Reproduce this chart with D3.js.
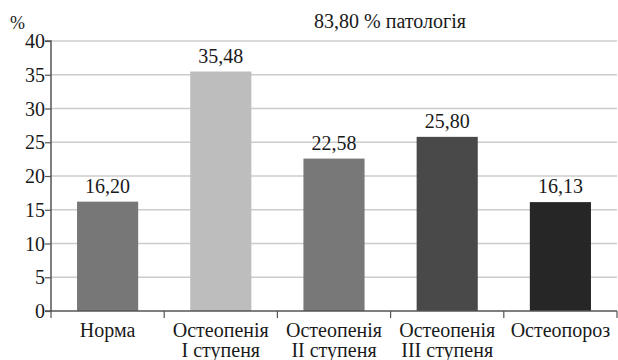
<!DOCTYPE html>
<html>
<head>
<meta charset="utf-8">
<script src="https://cdn.jsdelivr.net/npm/d3@7/dist/d3.min.js"></script>
</head>
<body style="margin:0;background:#fff">
<svg id="bmd" width="618" height="360"><g id="root" style="font-family:'Liberation Serif'; font-size:20px"></g></svg>
<script>
// Distribution of bone mineral density categories, %
const categories = [
  ["Норма"],
  ["Остеопенія", "I ступеня"],
  ["Остеопенія", "II ступеня"],
  ["Остеопенія", "III ступеня"],
  ["Остеопороз"]
];
const values = [16.20, 35.48, 22.58, 25.80, 16.13];
const barColors = ["#777777", "#bdbdbd", "#787878", "#494949", "#262626"];
const yTicks = [0, 5, 10, 15, 20, 25, 30, 35, 40];
const unitLabel = "%";
const noteLabel = "83,80 % патологія";

const TEXT_COLOR = "#1a1a1a";

const svg = d3.select("#root");
const margin = { left: 51, right: 1, top: 41, bottom: 49 };
const width = 618, height = 360;

const x = d3.scaleBand()
  .domain(d3.range(categories.length))
  .range([margin.left, width - margin.right])
  .paddingInner(0.46)
  .paddingOuter(0.23);

const y = d3.scaleLinear()
  .domain([0, 40])
  .range([height - margin.bottom, margin.top]);

const fmt = v => v.toFixed(2).replace(".", ",");

function addText(parent, str, px, py, anchor, size) {
  const t = parent.append("text")
    .attr("x", px)
    .attr("y", py)
    .attr("text-anchor", anchor || "middle")
    .attr("fill", TEXT_COLOR)
    .text(str);
  if (size) t.style("font-size", size + "px");
  return t;
}

// horizontal gridlines
svg.append("g")
  .selectAll("line")
  .data(yTicks.filter(t => t > 0))
  .join("line")
  .attr("x1", margin.left)
  .attr("x2", width - margin.right)
  .attr("y1", d => y(d))
  .attr("y2", d => y(d))
  .attr("stroke", "#cccccc")
  .attr("stroke-width", 1.5);

// bars
svg.append("g")
  .selectAll("rect")
  .data(values)
  .join("rect")
  .attr("x", (d, i) => x(i))
  .attr("width", x.bandwidth())
  .attr("y", d => y(d))
  .attr("height", d => y(0) - y(d))
  .attr("fill", (d, i) => barColors[i]);

// value labels
const valG = svg.append("g");
values.forEach((v, i) => {
  addText(valG, fmt(v), x(i) + x.bandwidth() / 2, y(v) - 9);
});

// y axis line and ticks
const yAxis = svg.append("g")
  .attr("transform", `translate(${margin.left},0)`)
  .call(d3.axisLeft(y).tickValues(yTicks).tickSize(6).tickFormat(""));
yAxis.attr("font-family", null).attr("font-size", null);
yAxis.select(".domain").attr("stroke", "#555").attr("stroke-width", 1.5).attr("d", `M-6,${y(0)}H0V${y(40)}H-6`);
yAxis.selectAll(".tick line").attr("stroke", "#555").attr("stroke-width", 1.2);

// y tick labels
const yLabG = svg.append("g");
yTicks.forEach(t => {
  addText(yLabG, String(t), margin.left - 6, y(t) + 7, "end");
});

// x axis with boundary ticks between categories
const xAxisG = svg.append("g").attr("transform", `translate(0,${y(0)})`);
xAxisG.append("line")
  .attr("x1", margin.left).attr("x2", width - margin.right)
  .attr("stroke", "#555").attr("stroke-width", 1.5);
const bounds = d3.range(categories.length + 1).map(i => margin.left + i * (width - margin.right - margin.left) / categories.length);
xAxisG.selectAll("line.tick")
  .data(bounds)
  .join("line")
  .attr("class", "tick")
  .attr("x1", d => d).attr("x2", d => d)
  .attr("y1", 0).attr("y2", 7)
  .attr("stroke", "#555").attr("stroke-width", 1.2);

// category labels, one text element per line
const catG = svg.append("g");
categories.forEach((lines, i) => {
  const cx = x(i) + x.bandwidth() / 2;
  lines.forEach((ln, j) => {
    addText(catG, ln, cx, y(0) + 26 + j * 20);
  });
});

// unit and annotation
addText(svg, unitLabel, 10, 29, "start", 18);
addText(svg, noteLabel, 390, 28, "middle");
</script>
</body>
</html>
